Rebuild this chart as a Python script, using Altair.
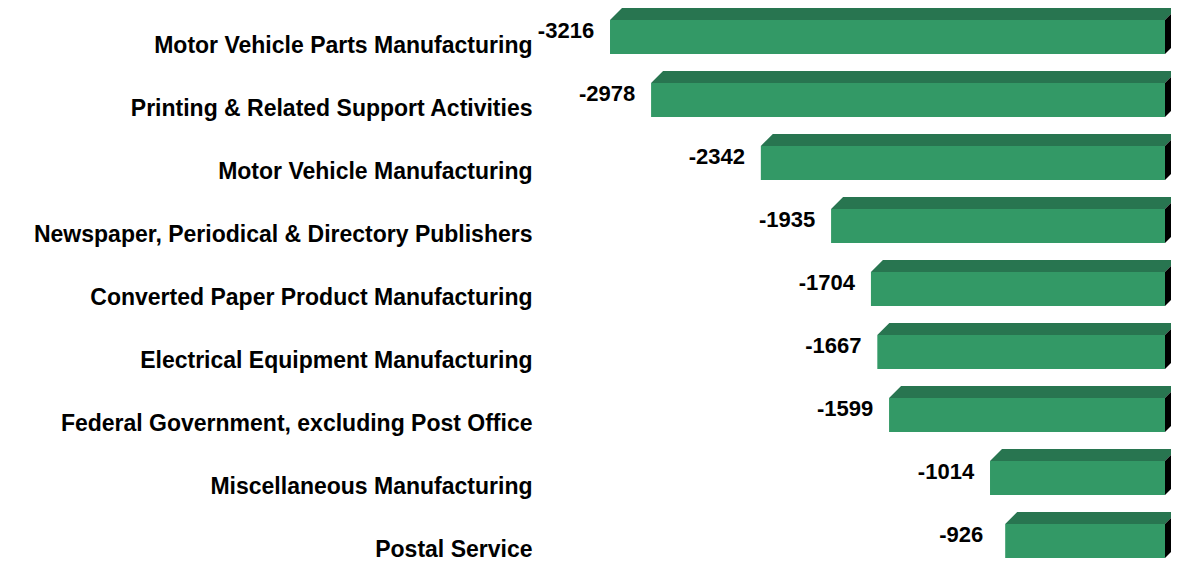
import altair as alt
import pandas as pd

categories = [
    "Motor Vehicle Parts Manufacturing",
    "Printing & Related Support Activities",
    "Motor Vehicle Manufacturing",
    "Newspaper, Periodical & Directory Publishers",
    "Converted Paper Product Manufacturing",
    "Electrical Equipment Manufacturing",
    "Federal Government, excluding Post Office",
    "Miscellaneous Manufacturing",
    "Postal Service",
]
values = [-3216, -2978, -2342, -1935, -1704, -1667, -1599, -1014, -926]

# geometry (pixels) for the pseudo-3D look
ROW_PX = 63.0
FRONT_PX = 34.0
DEPTH_PX = 12.0
PLOT_W = 604
X_MIN = -3500
n = len(categories)
PLOT_H = ROW_PX * n

px_per_x = PLOT_W / (0 - X_MIN)
dxu = DEPTH_PX / px_per_x          # depth in x data units
dz = DEPTH_PX / ROW_PX             # depth in y units
fh = FRONT_PX / ROW_PX             # front height in y units

front_rows, face_rows, label_rows = [], [], []
for i, (c, v) in enumerate(zip(categories, values)):
    ft = i + dz
    fb = ft + fh
    front_rows.append({"cat": c, "v": v, "zero": 0, "ft": ft, "fb": fb})
    label_rows.append({"cat": c, "v": v, "yc": (ft + fb) / 2, "lab": str(v)})
    for xx, y1, y2 in [
        (v, ft, ft),
        (v + dxu, ft, ft - dz),
        (0, ft, ft - dz),
        (dxu, ft - dz, ft - dz),
    ]:
        face_rows.append({"grp": "t%d" % i, "face": "top", "px": xx, "ya": y1, "yb": y2})
    for xx, y1, y2 in [
        (0, ft, fb),
        (dxu, ft - dz, fb - dz),
    ]:
        face_rows.append({"grp": "s%d" % i, "face": "side", "px": xx, "ya": y1, "yb": y2})

front_df = pd.DataFrame(front_rows)
face_df = pd.DataFrame(face_rows)
label_df = pd.DataFrame(label_rows)

xscale = alt.Scale(domain=[X_MIN, 0], nice=False, zero=False)
yscale = alt.Scale(domain=[0, n], reverse=True, nice=False, zero=False)

centers = [r["yc"] for r in label_rows]
cat_js = "[" + ",".join("'" + c + "'" for c in categories) + "]"

yaxis = alt.Axis(
    values=centers,
    labelExpr=cat_js + "[floor(datum.value)]",
    ticks=False, domain=False, grid=False, title=None,
    labelPadding=29, labelOffset=8, labelFontSize=23,
    labelFont="Liberation Sans", labelFontWeight="bold",
    labelColor="black", labelLimit=1000, labelOverlap=False,
    labelBound=False, labelFlush=False,
)

faces = alt.Chart(face_df).mark_area(opacity=1).encode(
    x=alt.X("px:Q", scale=xscale, axis=None),
    y=alt.Y("ya:Q", scale=yscale, axis=yaxis),
    y2="yb:Q",
    color=alt.Color("face:N", scale=alt.Scale(domain=["top", "side"], range=["#287550", "#000000"]), legend=None),
    detail="grp:N",
)

front = alt.Chart(front_df).mark_rect(color="#339966").encode(
    x=alt.X("v:Q", scale=xscale, axis=None),
    x2="zero:Q",
    y=alt.Y("ft:Q", scale=yscale),
    y2="fb:Q",
)

labels = alt.Chart(label_df).mark_text(
    align="center", baseline="middle", dx=-44, dy=-6,
    fontSize=22, fontWeight="bold", font="Liberation Sans", color="black",
).encode(
    x=alt.X("v:Q", scale=xscale, axis=None),
    y=alt.Y("yc:Q", scale=yscale),
    text="lab:N",
)

chart = alt.layer(faces, front, labels).properties(
    width=PLOT_W, height=PLOT_H,
    autosize=alt.AutoSizeParams(type="none"),
    padding={"left": 553, "top": 0, "right": 6, "bottom": 0},
    background="white",
).configure_view(stroke=None)

chart.save("out.html", embed_options={"renderer": "svg", "actions": False})
